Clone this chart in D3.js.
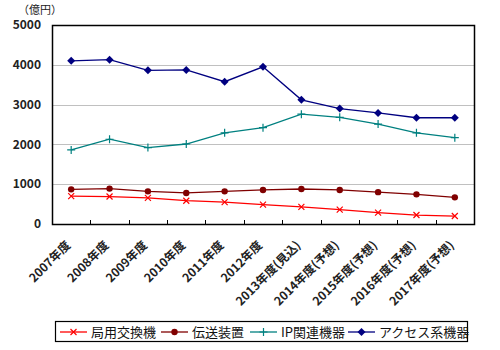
<!DOCTYPE html>
<html>
<head>
<meta charset="utf-8">
<script src="https://cdn.jsdelivr.net/npm/d3@7"></script>
<style>
  body { margin: 0; background: #fff; }
  text { font-family: "Noto Sans CJK JP", "DejaVu Sans", sans-serif; }
</style>
</head>
<body>
<div id="chart"></div>
<script>
var years = ["2007年度", "2008年度", "2009年度", "2010年度", "2011年度", "2012年度",
    "2013年度(見込)", "2014年度(予想)", "2015年度(予想)", "2016年度(予想)", "2017年度(予想)"];
var yTicks = [0, 1000, 2000, 3000, 4000, 5000];

var switchVals = [700, 690, 655, 585, 550, 485, 430, 360, 285, 225, 200];
var transVals = [870, 890, 820, 780, 820, 855, 880, 855, 800, 745, 670];
var ipVals = [1860, 2130, 1920, 2010, 2290, 2420, 2760, 2680, 2510, 2290, 2170];
var accessVals = [4100, 4130, 3860, 3870, 3575, 3950, 3120, 2900, 2790, 2670, 2670];

var seriesNames = ["局用交換機", "伝送装置", "IP関連機器", "アクセス系機器"];
var seriesColors = ["#ff0000", "#800000", "#008080", "#000080"];
var seriesMarks = ["x", "circle", "plus", "diamond"];
var seriesData = [switchVals, transVals, ipVals, accessVals];

var margin = { top: 25, right: 26, bottom: 126, left: 52 },
    width = 500 - margin.left - margin.right,
    height = 350 - margin.top - margin.bottom;

var svg = d3.select("#chart")
    .append("svg")
    .attr("width", 500)
    .attr("height", 350);

var g = svg.append("g")
    .attr("transform", "translate(" + margin.left + "," + margin.top + ")");

var x = d3.scaleBand().domain(years).range([0, width]);
var y = d3.scaleLinear().domain([0, 5000]).range([height, 0]);

// gridlines
g.selectAll(".grid")
    .data(yTicks.filter(function (d) { return d > 0 && d < 5000; }))
    .enter().append("line")
    .attr("x1", 0).attr("x2", width)
    .attr("y1", function (d) { return Math.round(y(d)) + 0.5; })
    .attr("y2", function (d) { return Math.round(y(d)) + 0.5; })
    .attr("stroke", "#c0c0c0");

// frame
g.append("rect")
    .attr("x", 0.5).attr("y", 0.5)
    .attr("width", width).attr("height", height)
    .attr("fill", "none")
    .attr("stroke", "#000")
    .attr("stroke-width", 1.5);

// x ticks (inward)
g.selectAll(".xtick")
    .data(d3.range(1, years.length))
    .enter().append("line")
    .attr("x1", function (i) { return Math.round(i * x.step()) + 0.5; })
    .attr("x2", function (i) { return Math.round(i * x.step()) + 0.5; })
    .attr("y1", height).attr("y2", height - 4)
    .attr("stroke", "#000");

// y labels
g.selectAll(".ylab")
    .data(yTicks)
    .enter().append("text")
    .attr("x", -11)
    .attr("y", function (d) { return y(d); })
    .attr("dy", "0.35em")
    .attr("text-anchor", "end")
    .attr("font-size", "12px")
    .attr("font-weight", "bold")
    .attr("fill", "#222")
    .text(function (d) { return d; });

svg.append("text")
    .attr("x", 18).attr("y", 14)
    .attr("font-size", "11px")
    .attr("fill", "#222")
    .text("（億円）");

// x labels
g.selectAll(".xlab")
    .data(years)
    .enter().append("text")
    .attr("transform", function (d) {
        return "translate(" + (x(d) + x.bandwidth() / 2 - 3) + "," + (height + 19) + ") rotate(-45)";
    })
    .attr("text-anchor", "end")
    .attr("dy", "0.35em")
    .attr("font-size", "12px")
    .attr("font-weight", "bold")
    .attr("fill", "#222")
    .text(function (d) { return d; });

function drawMark(sel, type, color) {
    if (type === "x") {
        sel.append("path").attr("d", "M-3,-3L3,3M-3,3L3,-3")
            .attr("stroke", color).attr("stroke-width", 1.2).attr("fill", "none");
    } else if (type === "plus") {
        sel.append("path").attr("d", "M-4,0L4,0M0,-4L0,4")
            .attr("stroke", color).attr("stroke-width", 1.2).attr("fill", "none");
    } else if (type === "circle") {
        sel.append("circle").attr("r", 3.2).attr("fill", color);
    } else {
        sel.append("path").attr("d", "M0,-4L4,0L0,4L-4,0Z").attr("fill", color);
    }
}

var line = d3.line()
    .x(function (d, i) { return x(years[i]) + x.bandwidth() / 2; })
    .y(function (d) { return y(d); });

seriesData.forEach(function (vals, s) {
    g.append("path")
        .datum(vals)
        .attr("fill", "none")
        .attr("stroke", seriesColors[s])
        .attr("stroke-width", 1.3)
        .attr("d", line);
    g.selectAll(".m" + s)
        .data(vals)
        .enter().append("g")
        .attr("transform", function (d, i) {
            return "translate(" + (x(years[i]) + x.bandwidth() / 2) + "," + y(d) + ")";
        })
        .each(function () { drawMark(d3.select(this), seriesMarks[s], seriesColors[s]); });
});

// legend
var legend = svg.append("g");
legend.append("rect")
    .attr("x", 55.5).attr("y", 321.5)
    .attr("width", 412).attr("height", 20)
    .attr("fill", "#fff").attr("stroke", "#000").attr("stroke-width", 1.2);

var legendX = [60, 161, 250, 348];
seriesNames.forEach(function (name, s) {
    var item = legend.append("g").attr("transform", "translate(" + legendX[s] + ",332)");
    item.append("line").attr("x1", 0).attr("x2", 27).attr("y1", 0).attr("y2", 0)
        .attr("stroke", seriesColors[s]).attr("stroke-width", 1.3);
    drawMark(item.append("g").attr("transform", "translate(13.5,0)"), seriesMarks[s], seriesColors[s]);
    item.append("text")
        .attr("x", 31).attr("y", 0).attr("dy", "0.36em")
        .attr("font-size", "13px")
        .attr("fill", "#111")
        .text(name);
});
</script>
</body>
</html>
